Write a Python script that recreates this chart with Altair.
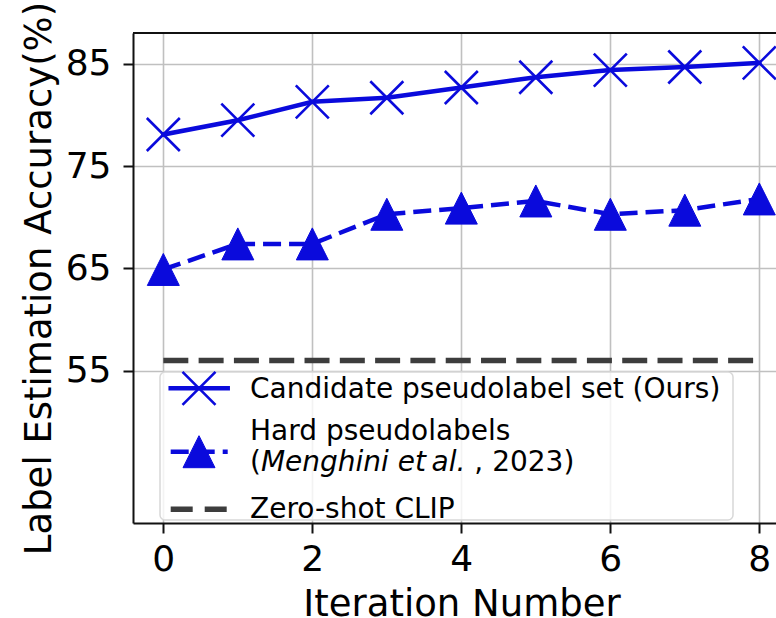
import altair as alt
import pandas as pd

# ---------------- data ----------------
iterations = [0, 1, 2, 3, 4, 5, 6, 7, 8]
candidate = [78.1, 79.5, 81.3, 81.7, 82.7, 83.7, 84.4, 84.7, 85.1]
hard = [64.9, 67.4, 67.4, 70.3, 70.9, 71.6, 70.3, 70.7, 71.8]
zero_shot_x = [0, 8]
zero_shot = [56.0, 56.0]
x_ticks = [0, 2, 4, 6, 8]
y_ticks = [55, 65, 75, 85]
x_title = "Iteration Number"
y_title = "Label Estimation Accuracy(%)"
leg_candidate = "Candidate pseudolabel set (Ours)"
leg_hard_1 = "Hard pseudolabels"
leg_hard_open = "("
leg_hard_italic = "Menghini et\u2009al."
leg_hard_close = ", 2023)"
leg_zero = "Zero-shot CLIP"

# ---------------- layout ----------------
W, H = 643, 490
OX, OY = 133, 33
FONT = "DejaVu Sans"
BLUE = "#0a0adc"
GRAY = "#3d3d3d"
X_SHAPE = "M-1,-1L1,1M-1,1L1,-1"
TRI_SHAPE = "M0,-1L-1,1L1,1Z"


def px(x):
    return x - OX


def py(y):
    return y - OY


main = pd.DataFrame({"iter": iterations, "cand": candidate, "hard": hard})
zs = pd.DataFrame({"iter": zero_shot_x, "acc": zero_shot})
one = alt.Data(values=[{"k": 1}])

xs = alt.Scale(domain=[-0.407, 8.224], nice=False, zero=False)
ys = alt.Scale(domain=[40.1, 88.03], nice=False, zero=False)

x_axis = alt.Axis(values=x_ticks, format="d", title=x_title,
                  labelBaseline="alphabetic", labelPadding=37,
                  titleX=328.5, titleY=92, titleAlign="center",
                  titleBaseline="alphabetic", titleAnchor="middle")
y_axis = alt.Axis(values=y_ticks, format="d", title=y_title,
                  labelPadding=12,
                  titleX=-83, titleY=245, titleAngle=270, titleAlign="center",
                  titleBaseline="alphabetic")


def X(field):
    return alt.X(field, type="quantitative", scale=xs, axis=x_axis)


def Y(field):
    return alt.Y(field, type="quantitative", scale=ys, axis=y_axis)


zero_line = alt.Chart(zs).mark_line(
    color=GRAY, strokeWidth=5.5, strokeDash=[25, 10.3]
).encode(x=X("iter"), y=Y("acc"))

base = alt.Chart(main)
hard_line = base.mark_line(color=BLUE, strokeWidth=4.5, strokeDash=[18, 8]).encode(
    x=X("iter"), y=Y("hard"))
hard_pts = base.mark_point(shape=TRI_SHAPE, filled=True, size=1024, color=BLUE,
                           opacity=1, stroke=BLUE, strokeWidth=1).encode(
    x=X("iter"), y=Y("hard"))
cand_line = base.mark_line(color=BLUE, strokeWidth=4.5, strokeCap="square").encode(
    x=X("iter"), y=Y("cand"))
cand_pts = base.mark_point(shape=X_SHAPE, filled=False, size=1089, color=BLUE,
                           opacity=1, strokeWidth=2.6).encode(
    x=X("iter"), y=Y("cand"))

# top spine
top_spine = alt.Chart(one).mark_rule(color="#111111", strokeWidth=2).encode(
    x=alt.value(0), x2=alt.value(W), y=alt.value(0)
)

# ---------------- legend ----------------
leg_box = alt.Chart(one).mark_rect(
    fill="white", fillOpacity=0.8, stroke="#d8d8d8", strokeWidth=1.5, cornerRadius=5
).encode(x=alt.value(px(160)), x2=alt.value(px(733)),
         y=alt.value(py(372)), y2=alt.value(py(520)))

lx1, lx2, lmx = 170.7, 227.7, 199
ly1, ly2, ly3 = 388.3, 451.7, 509.3

leg_l1 = alt.Chart(one).mark_rule(color=BLUE, strokeWidth=4.5, strokeCap="square").encode(
    x=alt.value(px(lx1)), x2=alt.value(px(lx2)), y=alt.value(py(ly1)))
leg_m1 = alt.Chart(one).mark_point(shape=X_SHAPE, filled=False, size=1089, color=BLUE,
                                   opacity=1, strokeWidth=2.6).encode(
    x=alt.value(px(lmx)), y=alt.value(py(ly1)))
leg_l2 = alt.Chart(one).mark_rule(color=BLUE, strokeWidth=4.5, strokeDash=[18, 8]).encode(
    x=alt.value(px(lx1)), x2=alt.value(px(lx2)), y=alt.value(py(ly2)))
leg_m2 = alt.Chart(one).mark_point(shape=TRI_SHAPE, filled=True, size=1024, color=BLUE,
                                   opacity=1, stroke=BLUE, strokeWidth=1).encode(
    x=alt.value(px(lmx)), y=alt.value(py(ly2)))
leg_l3 = alt.Chart(one).mark_rule(color=GRAY, strokeWidth=5.5, strokeDash=[22, 12]).encode(
    x=alt.value(px(lx1)), x2=alt.value(px(lx2)), y=alt.value(py(ly3)))

LFS = 28
TX = 250


def leg_text(txt, x, y, italic=False):
    return alt.Chart(one).mark_text(
        text=txt, align="left", baseline="alphabetic", fontSize=LFS, font=FONT,
        color="black", fontStyle="italic" if italic else "normal"
    ).encode(x=alt.value(px(x)), y=alt.value(py(y)))


open_w = 0.39 * LFS
ital_w = 7.305 * LFS
space_w = 0.318 * LFS
t1 = leg_text(leg_candidate, TX, 397.5)
t2 = leg_text(leg_hard_1, TX, 440)
t3a = leg_text(leg_hard_open, TX, 471)
t3b = leg_text(leg_hard_italic, TX + open_w, 471, italic=True)
t3c = leg_text(leg_hard_close, TX + open_w + ital_w + space_w, 471)
t4 = leg_text(leg_zero, TX, 517.5)

chart = alt.layer(
    zero_line, hard_line, hard_pts, cand_line, cand_pts, top_spine,
    leg_box, leg_l1, leg_m1, leg_l2, leg_m2, leg_l3,
    t1, t2, t3a, t3b, t3c, t4,
).properties(
    width=W, height=H,
    autosize=alt.AutoSizeParams(type="none"),
    padding={"left": OX, "top": OY, "right": 0, "bottom": 618 - OY - H},
    background="white",
).configure_view(
    stroke=None
).configure_axis(
    grid=True, gridColor="#c0c0c0", gridWidth=1.6,
    domain=True, domainColor="#111111", domainWidth=2,
    ticks=True, tickColor="#111111", tickSize=10, tickWidth=2,
    labelFont=FONT, labelFontSize=36, labelColor="black",
    titleFont=FONT, titleFontSize=37, titleFontWeight="normal", titleColor="black",
)

chart.save("out.html", embed_options={"renderer": "svg", "actions": False})
